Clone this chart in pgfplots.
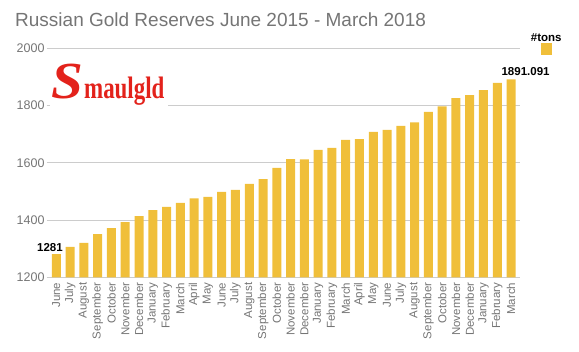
\documentclass[border=0pt]{standalone}
\usepackage{pgfplots}
\pgfplotsset{compat=1.18}
\usepackage{fontspec}
\setmainfont{Liberation Sans}
\newfontfamily\logofont{Liberation Serif}
\definecolor{barcol}{HTML}{F0BF3A}
\definecolor{txt}{HTML}{757575}
\definecolor{gridc}{HTML}{CCCCCC}
\definecolor{logored}{HTML}{E3221B}
\begin{document}
\begin{tikzpicture}
\useasboundingbox (0,0) rectangle (579pt,352pt);
\begin{axis}[
  at={(46.7pt,74.7pt)}, anchor=south west,
  width=473.3pt, height=229pt, scale only axis,
  xmin=-0.7, xmax=33.65, ymin=1200, ymax=2000,
  ytick={1200,1400,1600,1800,2000},
  axis line style={draw=none}, tick style={draw=none},
  ymajorgrids, grid style={gridc, line width=0.8pt},
  xtick={0,...,33},
  xticklabels={June,July,August,September,October,November,December,January,February,March,April,May,June,July,August,September,October,November,December,January,February,March,April,May,June,July,August,September,October,November,December,January,February,March},
  xticklabel style={rotate=90, anchor=east, font=\fontsize{11.5}{12}\selectfont, text=txt, inner sep=1pt, xshift=0pt},
  yticklabel style={font=\fontsize{12.5}{14}\selectfont, text=txt, inner sep=2pt},
  /pgf/number format/assume math mode=true, /pgf/number format/1000 sep={},
  ybar, bar width=9pt, bar shift=0pt,
  clip=false,
]
\addplot[fill=barcol, draw=none] coordinates {
(0,1281) (1,1306) (2,1320) (3,1351) (4,1372) (5,1393) (6,1414) (7,1435) (8,1446) (9,1460)
(10,1476) (11,1481) (12,1498) (13,1505) (14,1526) (15,1543) (16,1582) (17,1613) (18,1612) (19,1645)
(20,1652) (21,1680) (22,1683) (23,1708) (24,1715) (25,1729) (26,1741) (27,1778) (28,1797) (29,1826)
(30,1836) (31,1854) (32,1879) (33,1891.091)
};
\node[anchor=south east, font=\bfseries\fontsize{11.5}{12}\selectfont, inner sep=0pt] at (axis cs:0.48,1288) {1281};
\node[anchor=south west, font=\bfseries\fontsize{11.5}{12}\selectfont, inner sep=0pt] at (axis cs:32.3,1905) {1891.091};
\end{axis}
% logo
\fill[white] (50pt,245pt) rectangle (168pt,301pt);
\node[anchor=base west, inner sep=0pt, text=logored, font=\logofont\bfseries\itshape\fontsize{52}{52}\selectfont, xscale=1.1] at (51pt,253pt) {S};
\node[anchor=base west, inner sep=0pt, text=logored, font=\logofont\bfseries\fontsize{31}{31}\selectfont, xscale=0.74] at (84pt,253pt) {maulgld};
% title
\node[anchor=base west, inner sep=0pt, text=txt, font=\fontsize{19}{20}\selectfont] at (15pt,325.3pt) {Russian Gold Reserves June 2015 - March 2018};
% legend
\node[anchor=base, inner sep=0pt, font=\bfseries\fontsize{11.5}{12}\selectfont] at (546.3pt,310.5pt) {\#tons};
\fill[barcol] (540.7pt,297pt) rectangle (551.7pt,308.7pt);
\end{tikzpicture}
\end{document}
